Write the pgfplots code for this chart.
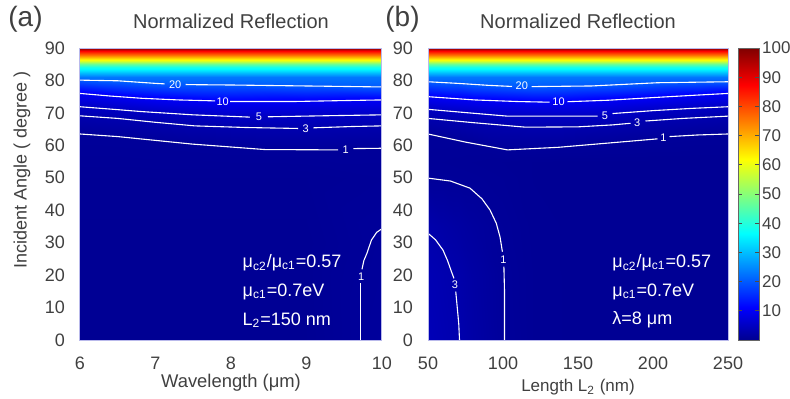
\documentclass[border=0pt]{standalone}
\usepackage{pgfplots}
\pgfplotsset{compat=1.18}
\usepackage{fontspec}
\setmainfont{Liberation Sans}
\definecolor{tickgray}{RGB}{64,64,64}
\definecolor{framec}{RGB}{185,185,235}
\pgfplotsset{
  colormap={mjet}{rgb(0)=(0,0,0.5625) rgb(7)=(0,0,1) rgb(23)=(0,1,1) rgb(39)=(1,1,0) rgb(55)=(1,0,0) rgb(63)=(0.5,0,0)},
  common/.style={
    scale only axis, height=146pt,
    enlargelimits=false, axis on top,
    colormap name=mjet, point meta min=0, point meta max=100,
    ymin=0, ymax=90, ytick={0,10,...,90},
    major tick length=0pt,
    tick label style={font=\fontsize{9}{10}\selectfont, text=tickgray},
    /pgf/number format/assume math mode=true,
    xticklabel style={yshift=-5pt}, yticklabel style={xshift=-4pt},
    axis line style={draw=framec, line width=0.5pt},
    title style={font=\fontsize{10}{12}\selectfont, text=tickgray, at={(axis description cs:0.5,1)}, anchor=base, yshift=4pt},
    title={Normalized Reflection},
  },
  cline/.style={white, line width=0.55pt, no markers},
}
\tikzset{
  clab/.style={text=white, font=\fontsize{5.5}{6}\selectfont, inner sep=0pt},
  anno/.style={text=white, anchor=west, inner sep=0pt, font=\fontsize{9}{10}\selectfont},
}
\begin{document}
\begin{tikzpicture}
\path[use as bounding box] (0,0) rectangle (395pt,199pt);
\node[anchor=base west, font=\fontsize{14}{16}\selectfont, text=tickgray, inner sep=0pt] at (4pt,186pt) {(a)};
\node[anchor=base west, font=\fontsize{14}{16}\selectfont, text=tickgray, inner sep=0pt] at (192.5pt,186pt) {(b)};
% ---------------- panel (a)
\begin{axis}[common, at={(40pt,29pt)}, anchor=south west, width=151pt,
  xmin=6, xmax=10, xtick={6,7,8,9,10},
  xlabel={Wavelength (μm)},
  xlabel style={font=\fontsize{9.2}{11}\selectfont, text=tickgray, at={(axis description cs:0.5,-0.161)}, anchor=base},
  ylabel={Incident Angle ( degree )},
  ylabel style={font=\fontsize{9}{11}\selectfont, text=tickgray, at={(axis description cs:-0.192,0.582)}, anchor=center},
]
\addplot[surf, shader=interp, mesh/rows=18, mesh/cols=5, mesh/ordering=y varies, point meta=explicit]
table[x=x, y=y, meta=z] {
x y z
6 0 0.4
6 30 0.45
6 50 0.6
6 63.5 1
6 69.1 3
6 71.9 5
6 76.0 10
6 80.1 20
6 81 23
6 82 28
6 83 33
6 84 39
6 85 47
6 86 58
6 87 67
6 88 76
6 89 87
6 90 100
7 0 0.4
7 30 0.45
7 50 0.6
7 61.3 1
7 67.3 3
7 70.3 5
7 74.3 10
7 78.9 20
7 81 23
7 82 28
7 83 33
7 84 39
7 85 47
7 86 58
7 87 67
7 88 76
7 89 87
7 90 100
8 0 0.4
8 30 0.45
8 50 0.6
8 59.5 1
8 65.6 3
8 68.8 5
8 73.4 10
8 78.6 20
8 81 23
8 82 28
8 83 33
8 84 39
8 85 47
8 86 58
8 87 67
8 88 76
8 89 87
8 90 100
9 0 0.4
9 30 0.45
9 50 0.6
9 58.7 1
9 65.2 3
9 69.0 5
9 73.6 10
9 78.3 20
9 81 23
9 82 28
9 83 33
9 84 39
9 85 47
9 86 58
9 87 67
9 88 76
9 89 87
9 90 100
10 0 1.25
10 30 1.05
10 50 0.8
10 59.1 1
10 66.0 3
10 69.4 5
10 74.0 10
10 78.0 20
10 81 23
10 82 28
10 83 33
10 84 39
10 85 47
10 86 58
10 87 67
10 88 76
10 89 87
10 90 100
};
% contour 20
\addplot[cline] coordinates {(6,80.1) (6.5,79.9) (7,79.1) (7.12,78.95)};
\addplot[cline] coordinates {(7.40,78.75) (7.5,78.7) (8,78.6) (9,78.3) (10,78.0)};
\node[clab] at (axis cs:7.26,78.8) {20};
% contour 10
\addplot[cline] coordinates {(6,76.0) (6.4,75.2) (6.82,74.5) (7.3,74.0) (7.79,73.7)};
\addplot[cline] coordinates {(7.99,73.5) (8.8,73.5) (9.5,73.8) (10,74.0)};
\node[clab] at (axis cs:7.89,73.5) {10};
% contour 5
\addplot[cline] coordinates {(6,71.9) (6.5,71.0) (6.82,70.4) (7.5,69.4) (8.25,68.7)};
\addplot[cline] coordinates {(8.49,68.8) (9.2,69.1) (10,69.4)};
\node[clab] at (axis cs:8.37,68.7) {5};
% contour 3
\addplot[cline] coordinates {(6,69.1) (6.5,68.3) (7,67.1) (7.52,66.0) (8.2,65.5) (8.89,65.2)};
\addplot[cline] coordinates {(9.09,65.4) (9.6,65.8) (10,66.0)};
\node[clab] at (axis cs:8.99,65.2) {3};
% contour 1
\addplot[cline] coordinates {(6,63.5) (6.5,62.7) (7.48,60.4) (8.45,58.7) (9.42,58.6)};
\addplot[cline] coordinates {(9.62,59.0) (10,59.1)};
\node[clab] at (axis cs:9.52,58.7) {1};
% contour 1 lower right
\addplot[cline] coordinates {(9.72,0) (9.72,17.5)};
\addplot[cline] coordinates {(9.735,21.8) (9.76,24.5) (9.80,26.7) (9.86,30.8) (9.93,33.2) (10,34.3)};
\node[clab] at (axis cs:9.725,19.6) {1};
\node[anno] at (axis cs:8.15,23.7) {μ\textsubscript{c2}/μ\textsubscript{c1}=0.57};
\node[anno] at (axis cs:8.15,14.8) {μ\textsubscript{c1}=0.7eV};
\node[anno] at (axis cs:8.15,6.2) {L\textsubscript{2}=150 nm};
\end{axis}
% ---------------- panel (b)
\begin{axis}[common, at={(214pt,29pt)}, anchor=south west, width=150pt,
  xmin=50, xmax=250, xtick={50,100,150,200,250},
  xlabel={Length L\textsubscript{2} (nm)},
  xlabel style={font=\fontsize{8.5}{10}\selectfont, text=tickgray, at={(axis description cs:0.5,-0.178)}, anchor=base},
  colorbar right,
  colorbar style={width=10.5pt, at={(parent axis.north east)}, anchor=north west, xshift=-3.5pt,
    ytick={10,20,...,100}, yticklabel pos=right, ytick pos=both, tick align=inside,
    major tick length=2pt, tick style={black!70, line width=0.4pt},
    axis line style={draw=black!60, line width=0.4pt},
    /pgf/number format/assume math mode=true,
    yticklabel style={font=\fontsize{8.5}{10}\selectfont, text=tickgray, xshift=-2pt}},
]
\addplot[surf, shader=interp, mesh/rows=20, mesh/cols=11, mesh/ordering=y varies, point meta=explicit]
table[x=x, y=y, meta=z] {
x y z
50 0 4.0
50 20 3.6
50 35 2.8
50 50 0.97
50 55 0.85
50 63.5 1
50 68.3 3
50 71.1 5
50 75.0 10
50 79.6 20
50 81 23
50 82 28
50 83 33
50 84 39
50 85 47
50 86 58
50 87 67
50 88 76
50 89 87
50 90 100
60 0 3.5
60 20 3.2
60 35 2.3
60 50 0.95
60 55 0.8
60 62.6 1
60 67.9 3
60 70.7 5
60 74.7 10
60 79.3 20
60 81 23
60 82 28
60 83 33
60 84 39
60 85 47
60 86 58
60 87 67
60 88 76
60 89 87
60 90 100
70 0 3.05
70 20 2.7
70 35 1.9
70 50 0.9
70 55 0.75
70 61.6 1
70 67.4 3
70 70.3 5
70 74.4 10
70 79.1 20
70 81 23
70 82 28
70 83 33
70 84 39
70 85 47
70 86 58
70 87 67
70 88 76
70 89 87
70 90 100
80 0 2.2
80 20 2.0
80 35 1.5
80 50 0.85
80 55 0.7
80 60.6 1
80 67.0 3
80 69.9 5
80 74.0 10
80 78.7 20
80 81 23
80 82 28
80 83 33
80 84 39
80 85 47
80 86 58
80 87 67
80 88 76
80 89 87
80 90 100
100 0 1.1
100 20 1.03
100 35 0.9
100 50 0.7
100 55 0.6
100 58.8 1
100 66.2 3
100 69.1 5
100 73.7 10
100 78.3 20
100 81 23
100 82 28
100 83 33
100 84 39
100 85 47
100 86 58
100 87 67
100 88 76
100 89 87
100 90 100
120 0 0.6
120 20 0.6
120 35 0.55
120 50 0.5
120 55 0.5
120 58.9 1
120 65.6 3
120 69.0 5
120 73.5 10
120 78.1 20
120 81 23
120 82 28
120 83 33
120 84 39
120 85 47
120 86 58
120 87 67
120 88 76
120 89 87
120 90 100
140 0 0.5
140 20 0.5
140 35 0.5
140 50 0.45
140 55 0.45
140 59.5 1
140 65.7 3
140 69.0 5
140 73.3 10
140 78.2 20
140 81 23
140 82 28
140 83 33
140 84 39
140 85 47
140 86 58
140 87 67
140 88 76
140 89 87
140 90 100
170 0 0.45
170 20 0.45
170 35 0.45
170 50 0.45
170 55 0.45
170 60.7 1
170 66.2 3
170 69.3 5
170 73.9 10
170 78.6 20
170 81 23
170 82 28
170 83 33
170 84 39
170 85 47
170 86 58
170 87 67
170 88 76
170 89 87
170 90 100
200 0 0.45
200 20 0.45
200 35 0.45
200 50 0.45
200 55 0.45
200 62.0 1
200 67.4 3
200 70.7 5
200 74.7 10
200 79.2 20
200 81 23
200 82 28
200 83 33
200 84 39
200 85 47
200 86 58
200 87 67
200 88 76
200 89 87
200 90 100
230 0 0.45
230 20 0.45
230 35 0.45
230 50 0.45
230 55 0.45
230 63.1 1
230 68.3 3
230 71.5 5
230 75.5 10
230 79.5 20
230 81 23
230 82 28
230 83 33
230 84 39
230 85 47
230 86 58
230 87 67
230 88 76
230 89 87
230 90 100
250 0 0.45
250 20 0.45
250 35 0.45
250 50 0.45
250 55 0.45
250 63.5 1
250 69.0 3
250 71.9 5
250 76.0 10
250 79.6 20
250 81 23
250 82 28
250 83 33
250 84 39
250 85 47
250 86 58
250 87 67
250 88 76
250 89 87
250 90 100
};
% contour 20
\addplot[cline] coordinates {(50,79.6) (70,79.1) (90,78.5) (106,78.15)};
\addplot[cline] coordinates {(119,78.1) (159,78.3) (203,79.3) (250,79.6)};
\node[clab] at (axis cs:112.5,78.3) {20};
% contour 10
\addplot[cline] coordinates {(50,75.0) (81,74.0) (110,73.5) (131,73.3)};
\addplot[cline] coordinates {(143,73.45) (170,73.9) (203,74.8) (230,75.5) (250,76.0)};
\node[clab] at (axis cs:137,73.3) {10};
% contour 5
\addplot[cline] coordinates {(50,71.1) (75,70.1) (103,69.0) (163,69.0)};
\addplot[cline] coordinates {(173,69.8) (200,70.7) (226,71.4) (250,71.9)};
\node[clab] at (axis cs:168,69.2) {5};
% contour 3
\addplot[cline] coordinates {(50,68.3) (80,67.0) (115,65.6) (150,65.7) (173,66.3) (185,66.8)};
\addplot[cline] coordinates {(195,67.5) (220,68.3) (250,69.0)};
\node[clab] at (axis cs:189.5,67.1) {3};
% contour 1
\addplot[cline] coordinates {(50,63.5) (75,61.0) (103,58.6) (137,59.4) (170,60.7) (203,62.0)};
\addplot[cline] coordinates {(211,62.7) (230,63.2) (250,63.5)};
\node[clab] at (axis cs:207,62.4) {1};
% lower-left contour 1
\addplot[cline] coordinates {(50,49.9) (65,49.0) (78,46.8) (86,43.5) (91.3,40.1) (95.5,36) (98,31.8) (99.6,27.2)};
\addplot[cline] coordinates {(100.6,22.6) (101,15) (101,0)};
\node[clab] at (axis cs:100.3,24.9) {1};
% lower-left contour 3
\addplot[cline] coordinates {(50,32.9) (55,30.9) (60,27.7) (63,24.5) (66,20.6) (67.3,19.0)};
\addplot[cline] coordinates {(68.5,14.9) (69.5,10) (70.5,5) (71,0)};
\node[clab] at (axis cs:68,16.9) {3};
\node[anno] at (axis cs:172.7,23.7) {μ\textsubscript{c2}/μ\textsubscript{c1}=0.57};
\node[anno] at (axis cs:172.7,14.8) {μ\textsubscript{c1}=0.7eV};
\node[anno] at (axis cs:172.7,6.2) {λ=8 μm};
\end{axis}
\end{tikzpicture}
\end{document}
